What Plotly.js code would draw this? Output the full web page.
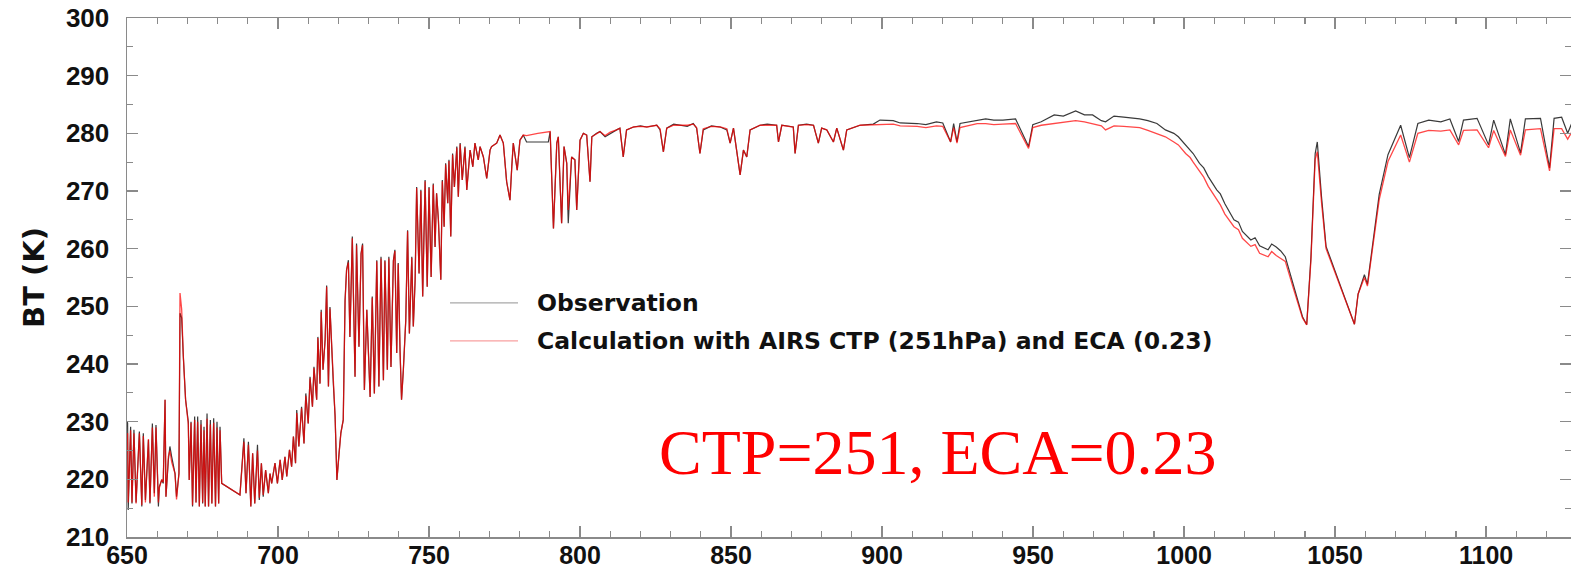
<!DOCTYPE html>
<html>
<head>
<meta charset="utf-8">
<script src="https://cdn.plot.ly/plotly-3.0.1.min.js"></script>
<style>html,body{margin:0;padding:0;background:#fff;}#chart{width:1571px;height:575px;}</style>
</head>
<body>
<div id="chart"></div>
<script>
// Wavenumber (cm-1)
const wavenumber = [
650.0,650.2,650.4,651.2,651.65,652.3,653.0,654.1,654.9,655.4,656.1,657.1,657.6,658.4,659.05,659.6,660.4,660.7,661.5,662.0,
662.6,662.9,663.7,664.2,664.8,665.3,665.9,666.4,667.2,667.55,668.1,668.65,669.4,670.3,670.6,671.2,671.7,672.4,672.85,673.4,
673.95,674.5,675.05,675.5,675.9,676.5,677.0,677.6,678.1,678.7,679.3,679.8,680.35,680.8,681.35,687.4,688.7,689.4,690.2,691.0,
691.6,692.3,693.2,693.8,694.5,695.1,695.9,696.8,697.35,697.9,699.0,699.8,700.7,701.4,702.3,702.9,703.8,704.5,705.1,705.8,
706.2,706.9,707.8,708.6,709.2,710.0,710.6,711.4,711.9,712.8,713.2,713.9,714.3,714.9,715.6,716.1,716.7,717.2,717.8,718.3,
718.9,719.5,720.2,720.8,721.6,722.2,722.7,723.3,723.8,724.6,725.5,726.0,726.8,727.5,728.0,728.6,729.4,729.9,730.5,731.2,
731.9,732.7,733.4,734.1,734.9,735.4,736.2,736.7,737.4,738.2,738.7,739.3,739.8,740.4,740.9,741.5,742.3,742.9,743.5,744.3,
744.8,745.4,745.9,746.7,747.3,747.9,748.7,749.4,750.0,750.7,751.4,752.0,752.5,753.1,753.9,754.4,755.0,755.5,756.2,756.6,
757.2,757.8,758.4,759.2,759.7,760.3,761.0,761.9,762.5,763.6,764.5,765.2,766.3,766.9,768.0,769.1,770.2,770.7,772.4,773.5,
774.6,775.7,776.8,777.4,777.9,779.2,780.1,781.2,782.3,786.0,789.5,790.1,791.2,792.3,792.8,793.9,794.7,795.6,796.1,797.2,
798.3,798.9,800.0,801.1,802.2,803.3,803.9,805.5,806.6,808.3,810.0,812.1,813.2,814.3,815.4,817.7,820.0,822.1,825.4,826.5,
827.6,828.7,831.0,833.1,835.5,837.5,838.6,839.7,840.8,843.5,846.4,848.6,849.7,850.8,851.9,853.0,854.1,855.2,856.3,859.6,
862.0,865.1,865.7,866.8,870.6,871.2,872.3,875.0,877.3,878.9,880.0,881.7,883.9,885.0,887.2,888.3,892.7,897.1,899.3,903.7,
906.0,911.6,914.5,918.0,920.1,922.7,923.7,924.8,925.8,931.5,934.3,937.0,940.0,944.2,948.5,949.9,952.7,957.0,960.0,964.1,
967.0,969.7,972.6,974.0,976.8,980.0,985.3,988.0,991.0,993.8,996.6,998.1,1000.5,1002.0,1003.0,1005.1,1006.5,1008.0,1010.8,1012.0,
1013.5,1016.5,1018.0,1019.3,1022.1,1023.5,1025.0,1027.8,1029.0,1030.5,1032.0,1033.5,1036.3,1039.2,1040.6,1042.0,1043.4,1044.1,1045.5,1047.0,
1056.4,1057.6,1059.7,1060.7,1064.6,1067.5,1071.7,1074.6,1077.4,1081.0,1085.0,1088.0,1090.9,1092.5,1097.0,1100.8,1102.5,1106.4,1108.0,1111.4,
1113.0,1118.0,1121.0,1122.5,1125.0,1127.0,1129.0
];
// Observed brightness temperature (K)
const btObservation = [
230.0,229.8,214.7,229.1,215.8,228.6,216.0,228.3,215.3,228.0,216.4,226.8,215.8,229.7,217.6,229.4,215.3,218.7,219.9,219.3,
233.8,217.0,223.4,225.7,223.9,222.8,221.0,217.0,221.0,248.8,248.0,241.3,233.8,230.0,219.9,230.0,215.3,230.9,216.0,230.9,
215.3,230.3,215.8,229.1,215.3,231.4,215.3,230.3,215.8,230.6,215.3,230.0,215.8,229.1,219.3,217.3,227.1,217.6,226.5,215.3,
224.5,215.8,226.0,216.4,222.8,217.0,221.6,217.6,221.0,219.3,222.8,219.3,223.4,219.9,223.9,220.5,225.1,222.2,227.4,222.8,
232.0,225.7,232.6,226.2,234.9,229.7,237.8,232.6,239.5,233.8,244.7,236.6,249.4,239.0,244.2,253.6,236.1,249.9,241.9,236.7,
230.9,219.9,224.5,228.0,230.3,251.1,256.3,258.0,244.7,262.1,237.8,260.9,243.0,259.2,260.9,235.5,249.4,241.9,234.3,251.7,
234.9,258.0,236.1,258.6,237.2,258.0,239.0,258.6,239.5,258.0,259.8,241.9,257.5,242.4,233.8,239.0,247.6,263.2,245.3,258.6,
246.5,254.6,270.7,255.7,270.2,251.7,271.9,253.4,270.7,255.1,271.3,260.3,269.6,265.0,254.6,271.9,263.8,274.8,267.9,275.4,
262.1,276.5,270.7,277.7,269.0,278.3,271.9,277.7,270.2,277.1,274.2,278.3,275.4,277.7,275.9,272.2,277.1,277.7,278.3,279.7,
278.3,271.6,268.4,274.2,278.3,273.6,278.8,279.7,278.5,278.5,278.5,280.3,263.5,278.3,279.4,264.4,277.7,274.8,264.4,275.9,
275.4,266.7,278.8,280.0,279.7,271.6,279.4,280.0,280.3,279.4,280.0,280.6,280.9,275.9,280.6,281.1,281.3,281.1,281.4,280.6,
276.8,280.9,281.6,281.4,281.2,281.7,280.9,276.5,280.6,281.3,281.1,280.6,278.3,280.9,276.5,272.8,277.1,275.9,280.6,281.4,
281.6,281.4,278.5,281.4,281.1,276.5,281.4,281.6,281.4,278.3,280.9,280.6,278.5,280.9,277.1,280.6,281.4,281.6,282.3,282.2,
281.8,281.7,281.5,282.0,281.8,278.5,281.7,278.5,281.7,282.3,282.5,282.3,282.3,282.5,277.7,281.5,282.0,283.2,283.0,283.9,
283.2,283.2,282.2,282.0,283.0,282.8,282.5,282.2,281.7,280.6,280.0,279.4,278.0,277.2,276.5,274.8,274.0,272.5,270.2,269.5,
267.8,265.0,264.6,263.0,261.5,261.9,260.5,259.8,260.8,260.3,259.6,258.6,253.4,248.2,246.8,258.6,276.5,278.5,269.0,260.4,
246.9,252.1,255.5,253.8,269.4,276.3,281.4,275.8,281.7,282.3,282.0,282.5,278.6,282.3,282.6,278.0,282.3,276.3,282.5,276.6,
282.5,282.6,274.0,282.6,282.8,280.0,282.6
];
// Calculation with AIRS CTP (251hPa) and ECA (0.23), brightness temperature (K)
const btCalculation = [
227.5,228.0,216.0,228.5,216.0,228.0,215.8,228.0,215.5,227.5,216.0,227.0,216.0,229.0,217.0,229.0,216.0,218.5,220.0,219.5,
233.8,217.0,224.0,225.0,223.0,222.0,221.0,216.5,221.0,252.3,249.5,241.3,233.8,229.5,219.9,229.8,215.5,230.3,216.0,230.0,
215.3,229.5,216.0,228.5,215.3,230.5,215.3,229.5,215.8,229.8,215.3,229.0,215.8,228.5,219.3,217.3,226.5,217.6,226.0,215.3,
224.5,215.8,225.0,216.8,222.8,217.3,221.6,217.6,221.0,219.3,222.8,219.3,223.4,219.9,223.9,220.5,225.1,222.2,227.4,222.8,
231.5,225.7,232.3,226.2,234.5,229.7,237.5,232.6,239.3,233.8,244.5,236.6,249.0,239.0,244.2,253.4,236.1,249.6,241.9,236.7,
230.9,219.9,224.5,228.0,230.3,250.8,256.3,257.6,244.7,261.8,237.8,260.6,243.0,259.0,260.6,235.5,249.4,241.9,234.3,251.5,
234.9,257.8,236.1,258.3,237.2,257.8,239.0,258.3,239.5,257.8,259.6,241.9,257.3,242.4,233.8,239.0,247.6,263.0,245.3,258.4,
246.5,254.6,270.5,255.7,270.0,251.7,271.7,253.4,270.5,255.1,271.1,260.3,269.6,265.0,254.6,271.7,263.8,274.6,267.9,275.2,
262.1,276.3,270.7,277.5,269.0,278.1,271.9,277.5,270.2,277.1,274.2,278.3,275.4,277.7,275.9,272.2,277.1,277.7,278.3,279.7,
278.3,271.6,268.4,274.2,278.3,273.6,278.8,279.7,279.6,280.0,280.3,280.3,263.5,278.3,279.4,264.4,277.7,274.8,266.7,275.9,
275.4,266.7,278.8,280.0,279.7,271.6,279.4,280.0,280.3,279.6,280.2,280.6,280.9,275.9,280.6,281.1,281.2,281.1,281.4,280.8,
276.8,280.9,281.4,281.4,281.4,281.6,281.0,276.5,280.8,281.2,281.1,280.8,278.3,280.9,276.5,272.8,277.1,275.9,280.6,281.4,
281.4,281.4,278.5,281.4,281.1,276.5,281.4,281.5,281.4,278.3,280.9,280.6,278.5,280.9,277.1,280.6,281.4,281.5,281.6,281.6,
281.3,281.2,281.0,281.3,281.2,278.5,281.0,278.3,281.0,281.7,281.7,281.5,281.6,281.7,277.4,281.0,281.4,281.7,282.0,282.2,
282.0,281.7,281.3,280.6,281.3,281.2,281.0,280.5,280.0,279.4,278.5,278.0,276.5,275.8,275.0,273.3,272.4,270.8,268.5,267.6,
266.0,263.8,263.3,261.8,260.4,260.7,259.2,258.6,259.5,258.8,258.3,257.8,252.9,248.0,246.8,258.0,275.5,276.8,268.0,260.0,
246.9,252.1,255.0,253.5,268.5,275.1,279.7,275.0,280.0,280.5,280.4,280.6,278.0,280.5,280.6,277.5,280.5,276.0,280.6,276.2,
280.6,280.8,273.5,280.8,280.8,279.0,280.8
];
const legendLabels = ["Observation", "Calculation with AIRS CTP (251hPa) and ECA (0.23)"];
const noteText = "CTP=251, ECA=0.23";

const sans = "Liberation Sans, Arial, Helvetica, sans-serif";
const wide = "DejaVu Sans, Verdana, sans-serif";
const traces = [
  {x: wavenumber, y: btObservation, type: "scatter", mode: "lines", name: legendLabels[0],
   line: {color: "#3a3a3a", width: 1.2}, showlegend: false},
  {x: wavenumber, y: btCalculation, type: "scatter", mode: "lines", name: legendLabels[1],
   line: {color: "rgba(255,0,0,0.72)", width: 1.3}, showlegend: false}
];

const axisCommon = {
  showgrid: false, zeroline: false, showline: true, linecolor: "#8a8a8a", linewidth: 1.5,
  mirror: "ticks", ticks: "inside", ticklen: 11, tickwidth: 1.3, tickcolor: "#8a8a8a",
  tickfont: {family: sans, size: 26, color: "#111", weight: "bold"}
};

const layout = {
  width: 1571, height: 575,
  margin: {l: 127, r: 0, t: 18, b: 38},
  paper_bgcolor: "#fff", plot_bgcolor: "#fff",
  xaxis: Object.assign({}, axisCommon, {
    range: [650, 1128.1], tick0: 650, dtick: 50, ticklabelstandoff: -5,
    tickfont: {family: sans, size: 25, color: "#111", weight: "bold"},
    minor: {ticks: "inside", ticklen: 6, dtick: 10, tickcolor: "#8a8a8a", tickwidth: 1.2, showgrid: false}
  }),
  yaxis: Object.assign({}, axisCommon, {
    range: [210, 300], tick0: 210, dtick: 10, ticklabelstandoff: 11,
    minor: {ticks: "inside", ticklen: 6, dtick: 5, tickcolor: "#8a8a8a", tickwidth: 1.2, showgrid: false},
    title: {text: "BT (K)", font: {family: wide, size: 29, color: "#111", weight: "bold"}, standoff: 13}
  }),
  shapes: [
    {type: "line", xref: "paper", yref: "paper", x0: 0.2237, x1: 0.2708, y0: 0.451, y1: 0.451,
     line: {color: "#a8a8a8", width: 1.2}},
    {type: "line", xref: "paper", yref: "paper", x0: 0.2237, x1: 0.2708, y0: 0.378, y1: 0.378,
     line: {color: "#f8a0a0", width: 1.2}}
  ],
  annotations: [
    {xref: "paper", yref: "paper", x: 0.2825, y: 0.451, xanchor: "left", yanchor: "middle", showarrow: false,
     text: legendLabels[0], font: {family: wide, size: 23.5, color: "#111", weight: "bold"}},
    {xref: "paper", yref: "paper", x: 0.2825, y: 0.378, xanchor: "left", yanchor: "middle", showarrow: false,
     text: legendLabels[1], font: {family: wide, size: 23.5, color: "#111", weight: "bold"}},
    {xref: "x", yref: "y", x: 918.5, y: 224.7, xanchor: "center", yanchor: "middle", showarrow: false,
     text: noteText, font: {family: "Liberation Serif, Times New Roman, serif", size: 64, color: "#ff0000"}}
  ]
};

Plotly.newPlot("chart", traces, layout, {displayModeBar: false, staticPlot: true});
</script>
</body>
</html>
